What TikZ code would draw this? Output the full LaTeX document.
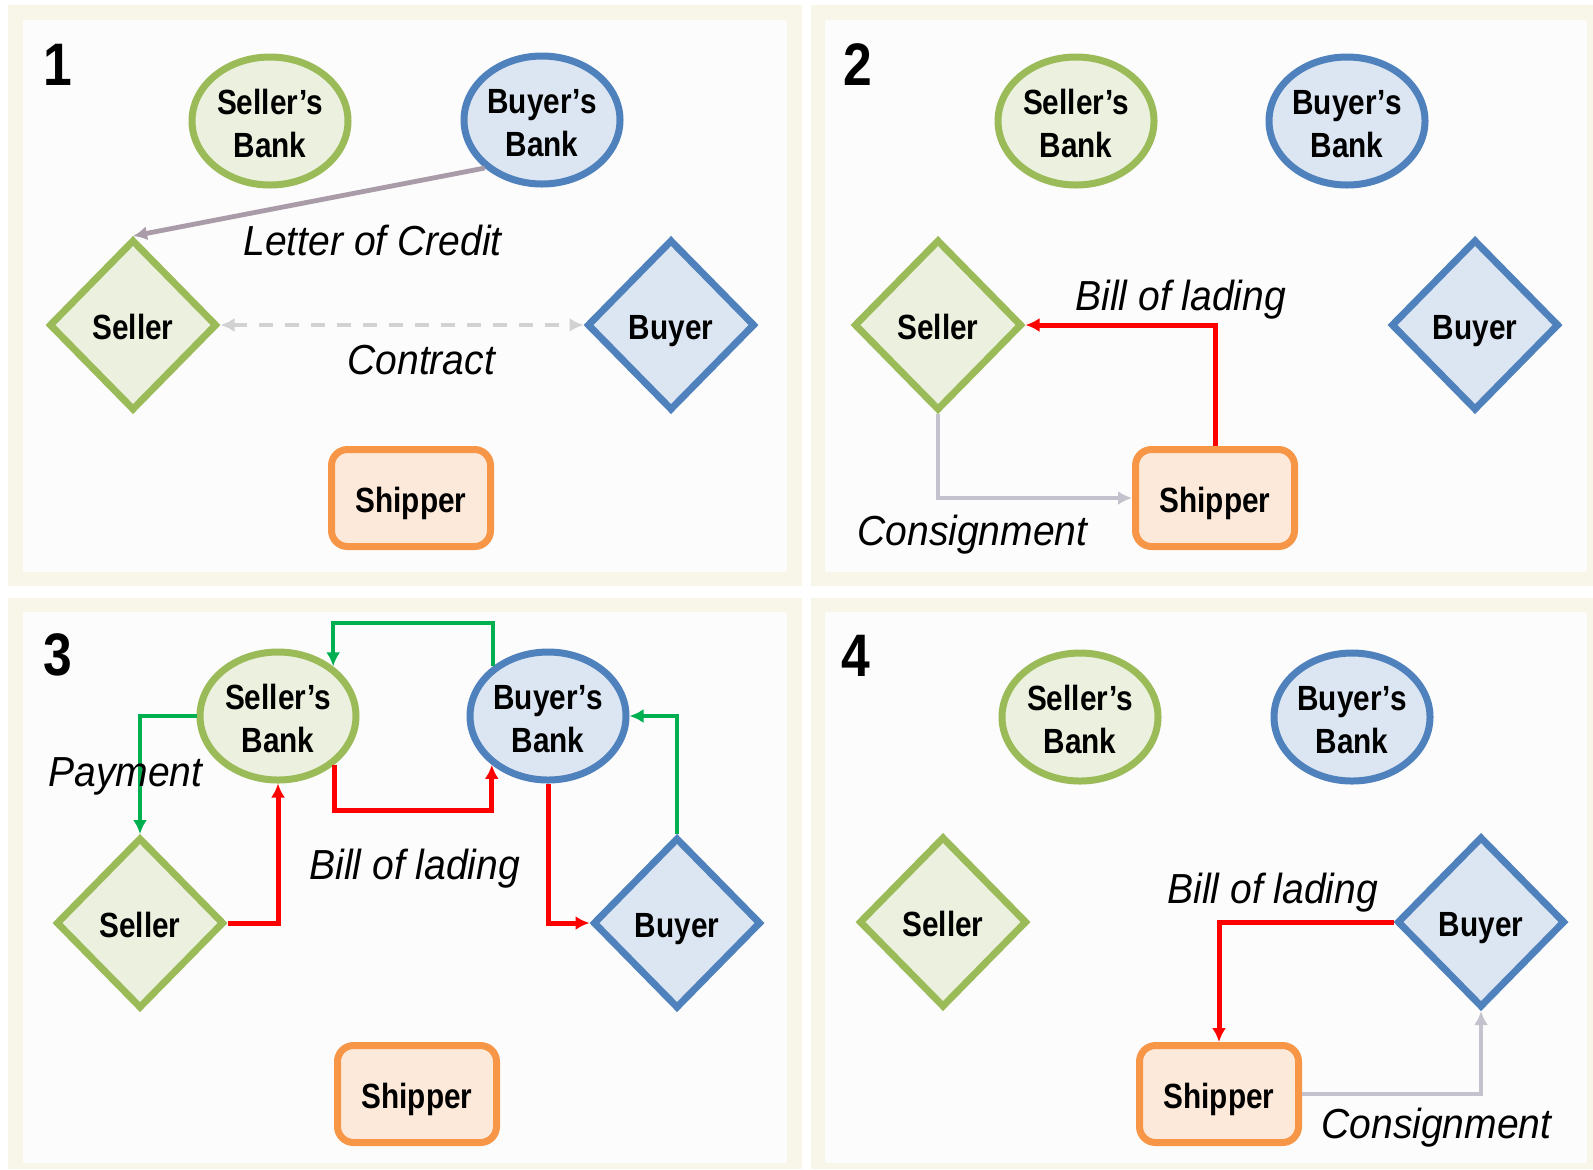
\documentclass[tikz,border=0pt]{standalone}
\usepackage{fontspec}
\setmainfont{Liberation Sans}
\usetikzlibrary{shapes.geometric,arrows.meta}
\definecolor{gline}{HTML}{9BBB59}
\definecolor{gfill}{HTML}{EBF1DE}
\definecolor{bline}{HTML}{4F81BD}
\definecolor{bfill}{HTML}{DCE6F2}
\definecolor{oline}{HTML}{F79646}
\definecolor{ofill}{HTML}{FDE9D9}
\definecolor{redc}{HTML}{FF0000}
\definecolor{greenc}{HTML}{00B050}
\definecolor{grayc}{HTML}{C4C2CC}
\definecolor{locc}{HTML}{A99CA8}
\definecolor{dashc}{HTML}{D2D2D2}
\definecolor{cream}{HTML}{F8F6E8}
\newcommand\ntxt[1]{\raisebox{-3pt}[\height][\depth]{\scalebox{0.85}[1]{\begin{tabular}{@{}c@{}}#1\end{tabular}}}}
\newcommand\ltxt[1]{\scalebox{0.93}[1]{#1}}
\newcommand\ntf{\fontsize{17.5}{21.5}\selectfont\bfseries}
\newcommand\ltf{\fontsize{21}{25}\selectfont\itshape}
\newcommand\numf{\fontsize{30}{32}\selectfont\bfseries}
\tikzset{
  sbank/.style={ellipse, draw=gline, fill=gfill, line width=3.5pt, minimum width=78pt, minimum height=64pt, inner sep=0pt, font=\ntf},
  bbank/.style={ellipse, draw=bline, fill=bfill, line width=3.5pt, minimum width=78pt, minimum height=64pt, inner sep=0pt, font=\ntf},
  sellerd/.style={diamond, draw=gline, fill=gfill, line width=3.5pt, minimum width=84pt, minimum height=85.5pt, inner sep=0pt, font=\ntf},
  buyerd/.style={diamond, draw=bline, fill=bfill, line width=3.5pt, minimum width=84pt, minimum height=85.5pt, inner sep=0pt, font=\ntf},
  shipbox/.style={rectangle, rounded corners=8pt, draw=oline, fill=ofill, line width=3.5pt, minimum width=79.5pt, minimum height=48.5pt, inner sep=0pt, font=\ntf},
  numlab/.style={anchor=base west, inner sep=0pt, font=\numf},
  lab/.style={anchor=base west, inner sep=0pt, font=\ltf},
  tip/.style={-{Latex[length=7pt,width=7pt]}},
  redarr/.style={draw=redc, line width=2.5pt, tip},
  greenarr/.style={draw=greenc, line width=2pt, tip},
  grayarr/.style={draw=grayc, line width=2.2pt, tip},
  locarr/.style={draw=locc, line width=2.4pt, tip},
  contractarr/.style={draw=dashc, line width=2pt, dash pattern=on 7pt off 6pt, {Latex[length=7pt,width=7pt]}-{Latex[length=7pt,width=7pt]}}
}
\begin{document}
\begin{tikzpicture}[x=0.5pt, y=-0.5pt]
\useasboundingbox (0,0) rectangle (1593,1169);
\fill[white] (0,0) rectangle (1593,1169);
% panels
\fill[cream] (8,5) rectangle (802,586);
\fill[white!99!black] (23,20) rectangle (787,572);
\fill[cream] (811,5) rectangle (1593,586);
\fill[white!99!black] (825,20) rectangle (1587,572);
\fill[cream] (8,598) rectangle (802,1169);
\fill[white!99!black] (23,612) rectangle (787,1163);
\fill[cream] (811,598) rectangle (1593,1169);
\fill[white!99!black] (825,612) rectangle (1587,1163);

% ---------- Panel 1 ----------
\node[numlab] (n1) at (43,85) {\scalebox{0.86}[1]{1}};
\node[sbank] (sb1) at (270,121) {\ntxt{Seller's\\Bank}};
\node[bbank] (bb1) at (542,120) {\ntxt{Buyer's\\Bank}};
\node[sellerd] (s1) at (133,325) {\ntxt{Seller}};
\node[buyerd] (b1) at (671,325) {\ntxt{Buyer}};
\node[shipbox] (sh1) at (411,498) {\ntxt{Shipper}};
\draw[locarr] (bb1.220) -- (s1.north);
\draw[contractarr] (s1.east) -- (b1.west);
\node[lab] (loc1) at (243,255) {\ltxt{Letter of Credit}};
\node[lab] (con1) at (347,374) {\ltxt{Contract}};

% ---------- Panel 2 ----------
\node[numlab] (n2) at (843,85) {\scalebox{0.86}[1]{2}};
\node[sbank] (sb2) at (1076,121) {\ntxt{Seller's\\Bank}};
\node[bbank] (bb2) at (1347,121) {\ntxt{Buyer's\\Bank}};
\node[sellerd] (s2) at (938,325) {\ntxt{Seller}};
\node[buyerd] (b2) at (1475,325) {\ntxt{Buyer}};
\node[shipbox] (sh2) at (1215,498) {\ntxt{Shipper}};
\draw[redarr] (sh2.north) |- (s2.east);
\draw[grayarr] (s2.south) |- (sh2.west);
\node[lab] (bol2) at (1075,310) {\ltxt{Bill of lading}};
\node[lab] (cons2) at (857,545) {\ltxt{Consignment}};

% ---------- Panel 3 ----------
\node[numlab] (n3) at (43,675) {\scalebox{0.86}[1]{3}};
\node[sbank] (sb3) at (278,716) {\ntxt{Seller's\\Bank}};
\node[bbank] (bb3) at (548,716) {\ntxt{Buyer's\\Bank}};
\node[sellerd] (s3) at (140,923) {\ntxt{Seller}};
\node[buyerd] (b3) at (677,923) {\ntxt{Buyer}};
\node[shipbox] (sh3) at (417,1094) {\ntxt{Shipper}};
\coordinate (top3) at (0,623);
\coordinate (bot3) at (0,810);
\draw[greenarr] (bb3.138) -- (bb3.138 |- top3) -| (sb3.42);
\draw[greenarr] (sb3.west) -| (s3.north);
\draw[greenarr] (b3.north) |- (bb3.east);
\draw[redarr] (s3.east) -| (sb3.south);
\draw[redarr] (sb3.-41) -- (sb3.-41 |- bot3) -| (bb3.221);
\draw[redarr] (bb3.south) |- (b3.west);
\node[lab] (pay3) at (48,786) {\ltxt{Payment}};
\node[lab] (bol3) at (309,879) {\ltxt{Bill of lading}};

% ---------- Panel 4 ----------
\node[numlab] (n4) at (841,676) {\scalebox{0.86}[1]{4}};
\node[sbank] (sb4) at (1080,717) {\ntxt{Seller's\\Bank}};
\node[bbank] (bb4) at (1352,717) {\ntxt{Buyer's\\Bank}};
\node[sellerd] (s4) at (943,922) {\ntxt{Seller}};
\node[buyerd] (b4) at (1481,922) {\ntxt{Buyer}};
\node[shipbox] (sh4) at (1219,1094) {\ntxt{Shipper}};
\draw[redarr] (b4.west) -| (sh4.north);
\draw[grayarr] (sh4.east) -| (b4.south);
\node[lab] (bol4) at (1167,903) {\ltxt{Bill of lading}};
\node[lab] (cons4) at (1321,1138) {\ltxt{Consignment}};
\end{tikzpicture}
\end{document}
